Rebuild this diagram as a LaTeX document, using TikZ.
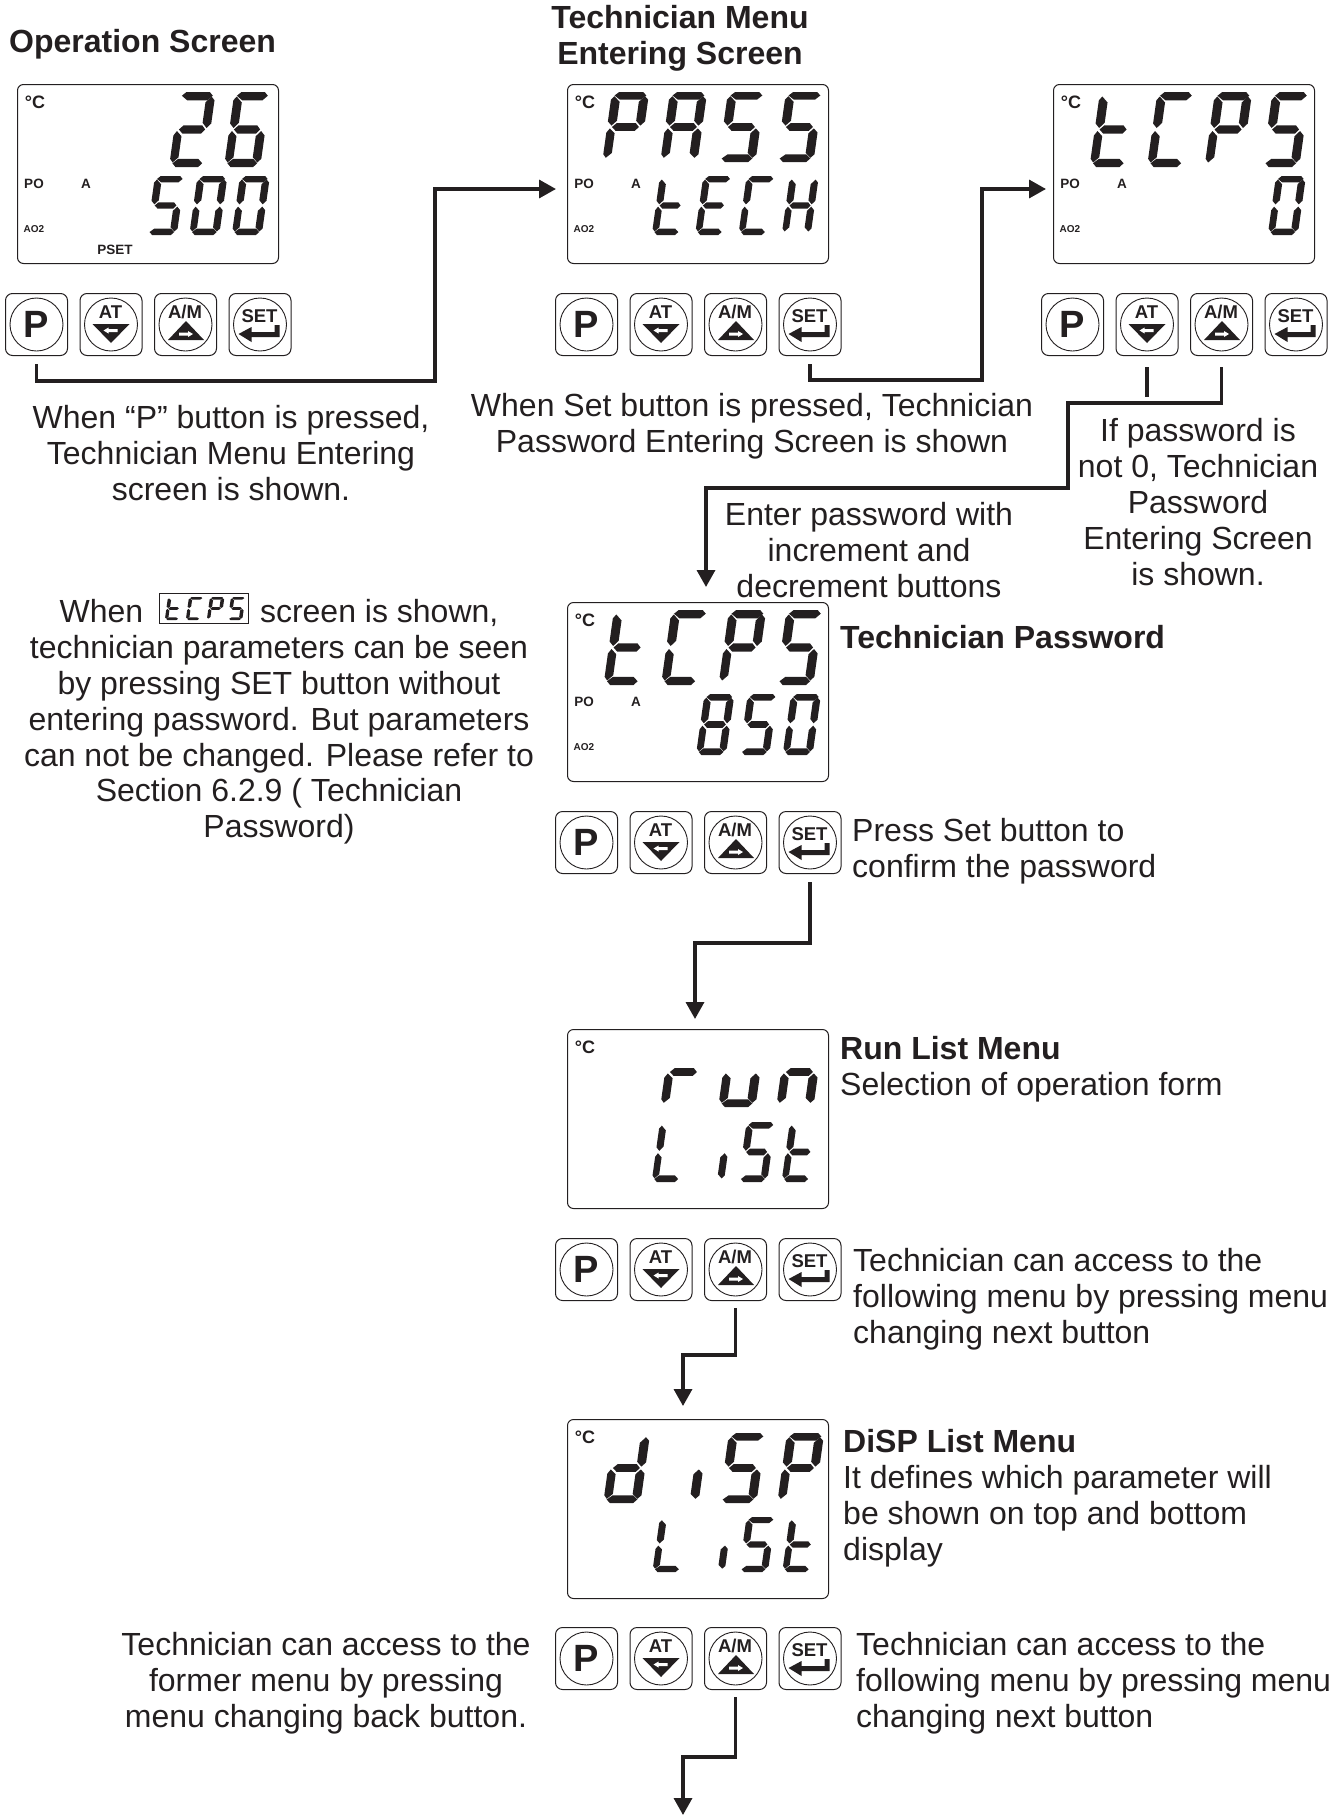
\documentclass[tikz,border=0pt]{standalone}
\usetikzlibrary{arrows.meta}
\usepackage{fontspec}
\setmainfont{Liberation Sans}
\definecolor{ink}{HTML}{231F20}

\tikzset{
  seg a/.pic={\fill[ink] (5,5) -- (12,0) -- (52,0) -- (58,5) -- (50,11) -- (15,11) -- cycle;},
  seg g/.pic={\fill[ink] (8,50) -- (15,44.5) -- (47,44.5) -- (53,50) -- (47,55.5) -- (15,55.5) -- cycle;},
  seg d/.pic={\fill[ink] (5,95) -- (14,89) -- (48,89) -- (56,95) -- (50,100) -- (11,100) -- cycle;},
  seg f/.pic={\fill[ink] (5,6) -- (15,14) -- (15,41) -- (7,48) -- (0,42) -- (0,11) -- cycle;},
  seg e/.pic={\fill[ink] (5,52) -- (14,59) -- (14,87) -- (5,94) -- (0,89) -- (0,58) -- cycle;},
  seg b/.pic={\fill[ink] (56,6) -- (62,11) -- (62,42) -- (55,48) -- (47,41) -- (47,14) -- cycle;},
  seg c/.pic={\fill[ink] (55,52) -- (62,58) -- (62,89) -- (56,94) -- (47,87) -- (47,59) -- cycle;},
  lcdframe/.style={draw=ink,line width=1pt,rounded corners=6pt,minimum width=261pt,minimum height=179pt,inner sep=0pt,anchor=north west},
  keybox/.style={draw=ink,line width=1pt,rounded corners=7pt,minimum size=62pt,inner sep=0pt,anchor=north west},
  keyring/.style={draw=ink,line width=0.9pt},
  keytext/.style={font=\bfseries\fontsize{18.5}{18.5}\selectfont,text=ink,inner sep=0pt},
  bigkey/.style={font=\bfseries\fontsize{38}{38}\selectfont,text=ink,inner sep=0pt},
  unitmark/.style={font=\bfseries\fontsize{18}{18}\selectfont,text=ink,inner sep=0pt},
  lcdmark/.style={font=\bfseries\fontsize{13.5}{14}\selectfont,text=ink,inner sep=0pt},
  tinymark/.style={font=\bfseries\fontsize{10}{10}\selectfont,text=ink,inner sep=0pt},
  flowline/.style={draw=ink,line width=3.4pt,line cap=butt},
  flowarrow/.style={flowline,-{Triangle[length=17pt,width=18pt]}},
  note/.style={font=\fontsize{32}{35.8}\selectfont,text=ink,align=center,inner sep=0pt},
  leftnote/.style={note,align=left,anchor=west},
  heading/.style={font=\bfseries\fontsize{32}{35.8}\selectfont,text=ink,inner sep=0pt},
}

% one row of seven-segment digits, x and y of the upper left corner of the first one
\newcommand{\segrow}[6]{%
  \pgfmathsetmacro\segsx{#4/60}
  \pgfmathsetmacro\segsy{#5/100}
  \pgfmathsetmacro\segsk{0.14*#5/100}
  \foreach \segs [count=\i from 0] in {#6} {
    \pgfmathsetmacro\segpx{#1+\i*#3}
    \begin{scope}[cm={\segsx,0,\segsk,\segsy,(\segpx,#2)}]
      \foreach \s in \segs {\pic[transform shape] {seg \s};}
    \end{scope}
  }%
}

% display frame with its degree mark
\newcommand{\lcdbox}[3]{%
  \node[lcdframe] (#1) at (#2,#3) {};
  \node[unitmark] (#1unit) at ([shift={(18,18.5)}]#1.north west) {°C};
}
% the PO, A and AO2 marks
\newcommand{\lcdmarks}[1]{%
  \node[lcdmark] (#1po) at ([shift={(17,100)}]#1.north west) {PO};
  \node[lcdmark] (#1a) at ([shift={(69,100)}]#1.north west) {A};
  \node[tinymark] (#1ao) at ([shift={(17,145)}]#1.north west) {AO2};
}

% four buttons in a row
\newcommand{\keypad}[3]{%
  \node[keybox] (#1p) at (#2,#3) {};
  \node[keybox] (#1at) at (#2+74.5,#3) {};
  \node[keybox] (#1am) at (#2+149,#3) {};
  \node[keybox] (#1set) at (#2+223.5,#3) {};
  \foreach \k in {p,at,am,set} {\draw[keyring] (#1\k.center) circle (26.5pt);}
  \node[bigkey] (#1ptext) at (#1p.center) {P};
  \node[keytext] (#1attext) at ([shift={(31,19)}]#1at.north west) {AT};
  \node[keytext] (#1amtext) at ([shift={(31,19)}]#1am.north west) {A/M};
  \node[keytext] (#1settext) at ([shift={(31,23)}]#1set.north west) {SET};
  % down triangle with left arrow
  \begin{scope}[shift={(#1at.north west)}]
    \fill[ink] (13,31) -- (50,31) -- (31.5,50) -- cycle;
    \fill[white] (24,37.5) -- (29,34.5) -- (29,36) -- (38,36) -- (38,39) -- (29,39) -- (29,40.5) -- cycle;
  \end{scope}
  % up triangle with right arrow
  \begin{scope}[shift={(#1am.north west)}]
    \fill[ink] (14,47) -- (50,47) -- (32,28) -- cycle;
    \fill[white] (39,41) -- (34,38) -- (34,39.5) -- (25,39.5) -- (25,42.5) -- (34,42.5) -- (34,44) -- cycle;
  \end{scope}
  % enter arrow
  \begin{scope}[shift={(#1set.north west)}]
    \fill[ink] (51,32) -- (51,44) -- (23,44) -- (23,49) -- (10,41) -- (23,34) -- (23,39) -- (46,39) -- (46,32) -- cycle;
  \end{scope}
}

\begin{document}
\begin{tikzpicture}[x=1pt,y=-1pt]
\useasboundingbox (0,0) rectangle (1334,1815);
% headings
\node[heading,anchor=west] (opscreen) at (9,44) {Operation Screen};
\node[heading,align=center] (techmenu) at (680,38) {Technician Menu\\Entering Screen};
% displays
\lcdbox{dOne}{17}{84}
\lcdmarks{dOne}
\node[lcdmark] (dOnepset) at ([shift={(98,166)}]dOne.north west) {PSET};
\segrow{179.5}{92}{55}{35}{75}{{a,b,g,e,d},{a,f,g,e,d,c}}
\segrow{155}{176}{42.5}{29}{59}{{a,f,g,c,d},{a,b,c,d,e,f},{a,b,c,d,e,f}}
\lcdbox{dTwo}{567}{84}
\lcdmarks{dTwo}
\segrow{612}{92}{58}{36}{70}{{a,b,f,g,e},{a,b,c,e,f,g},{a,f,g,c,d},{a,f,g,c,d}}
\segrow{660}{176}{43.3}{28}{59}{{f,e,g,d},{a,f,g,e,d},{a,f,e,d},{f,e,g,b,c}}
\lcdbox{dThree}{1053}{84}
\lcdmarks{dThree}
\segrow{1100}{92}{57.5}{36}{75}{{f,e,g,d},{a,f,e,d},{a,b,f,g,e},{a,f,g,c,d}}
\segrow{1276}{176}{43}{29}{59}{{a,b,c,d,e,f}}
\lcdbox{dFour}{567}{602}
\lcdmarks{dFour}
\segrow{614}{610}{57.5}{36}{75}{{f,e,g,d},{a,f,e,d},{a,b,f,g,e},{a,f,g,c,d}}
\segrow{704.5}{694}{43.3}{29}{61}{{a,b,c,d,e,f,g},{a,f,g,c,d},{a,b,c,d,e,f}}
\lcdbox{dFive}{567}{1029}
\segrow{670}{1037}{58}{36}{70}{{g,e},{e,d,c},{g,e,c}}
\segrow{660}{1122}{43.3}{28}{60}{{f,e,d},{c},{a,f,g,c,d},{f,e,g,d}}
\lcdbox{dSix}{567}{1419}
\segrow{613}{1433}{58}{36}{70}{{b,c,d,e,g},{c},{a,f,g,c,d},{a,b,f,g,e}}
\segrow{660}{1517}{43.3}{28}{55}{{f,e,d},{c},{a,f,g,c,d},{f,e,g,d}}
% buttons
\keypad{kOne}{5}{293}
\keypad{kTwo}{555}{293}
\keypad{kThree}{1041}{293}
\keypad{kFour}{555}{811}
\keypad{kFive}{555}{1238}
\keypad{kSix}{555}{1627}
% arrow ends
\coordinate (inTwo) at (556,189);
\coordinate (inThree) at (1046,189);
\coordinate (inFour) at (706,587);
\coordinate (inFive) at (695,1019);
\coordinate (inSix) at (683,1406);
\coordinate (outEnd) at (683,1815);
% connectors
\draw[flowarrow,shorten <=8pt] (kOnep.south) |- (435,381) |- (inTwo);
\draw[flowarrow,shorten <=8pt] (kTwoset.south) |- (982,380) |- (inThree);
\draw[flowline,shorten <=11pt] (kThreeat.south) -- ++(0,41);
\draw[flowarrow,shorten <=11pt] (kThreeam.south) |- (1068,403) |- (706,488) -- (inFour);
\draw[flowarrow,shorten <=8pt] (kFourset.south) |- (695,943) -- (inFive);
\draw[flowarrow,shorten <=7pt] (kFiveam.south) |- (683,1355) -- (inSix);
\draw[flowarrow,shorten <=7pt] (kSixam.south) |- (683,1757) -- (outEnd);
% texts
\node[note] (noteP) at (231,453) {When “P” button is pressed,\\Technician Menu Entering\\screen is shown.};
\node[note] (noteSet) at (752,426) {When Set button is pressed, Technician\\Password Entering Screen is shown};
\node[note] (noteZero) at (1198,502) {If password is\\not 0, Technician\\Password\\Entering Screen\\is shown.};
\node[note] (noteEnter) at (869,550) {Enter password with\\increment and\\decrement buttons};
\node[note] (noteTech) at (279,722) {When \hspace{99pt} screen is shown,\\technician parameters can be seen\\by pressing SET button without\\entering password. But parameters\\can not be changed. Please refer to\\Section 6.2.9 ( Technician\\Password)};
% small display in the text
\node[draw=ink,line width=1pt,minimum width=89pt,minimum height=30pt,inner sep=0pt] (smallBox) at (204,608.5) {};
\segrow{168}{597}{21}{14}{23}{{f,e,g,d},{a,f,e,d},{a,b,f,g,e},{a,f,g,c,d}}
\node[heading,anchor=west] (passTitle) at (840,637) {Technician Password};
\node[leftnote] (notePress) at (852,851) {Press Set button to\\confirm the password};
\node[heading,anchor=west] (runTitle) at (840,1048) {Run List Menu};
\node[leftnote] (noteRun) at (840,1087) {Selection of operation form};
\node[leftnote] (noteNext) at (853,1299) {Technician can access to the\\following menu by pressing menu\\changing next button};
\node[heading,anchor=west] (dispTitle) at (843,1441) {DiSP List Menu};
\node[leftnote] (noteDisp) at (843,1516) {It defines which parameter will\\be shown on top and bottom\\display};
\node[note] (noteBack) at (326,1683) {Technician can access to the\\former menu by pressing\\menu changing back button.};
\node[leftnote] (noteNextTwo) at (856,1683) {Technician can access to the\\following menu by pressing menu\\changing next button};
\end{tikzpicture}
\end{document}
